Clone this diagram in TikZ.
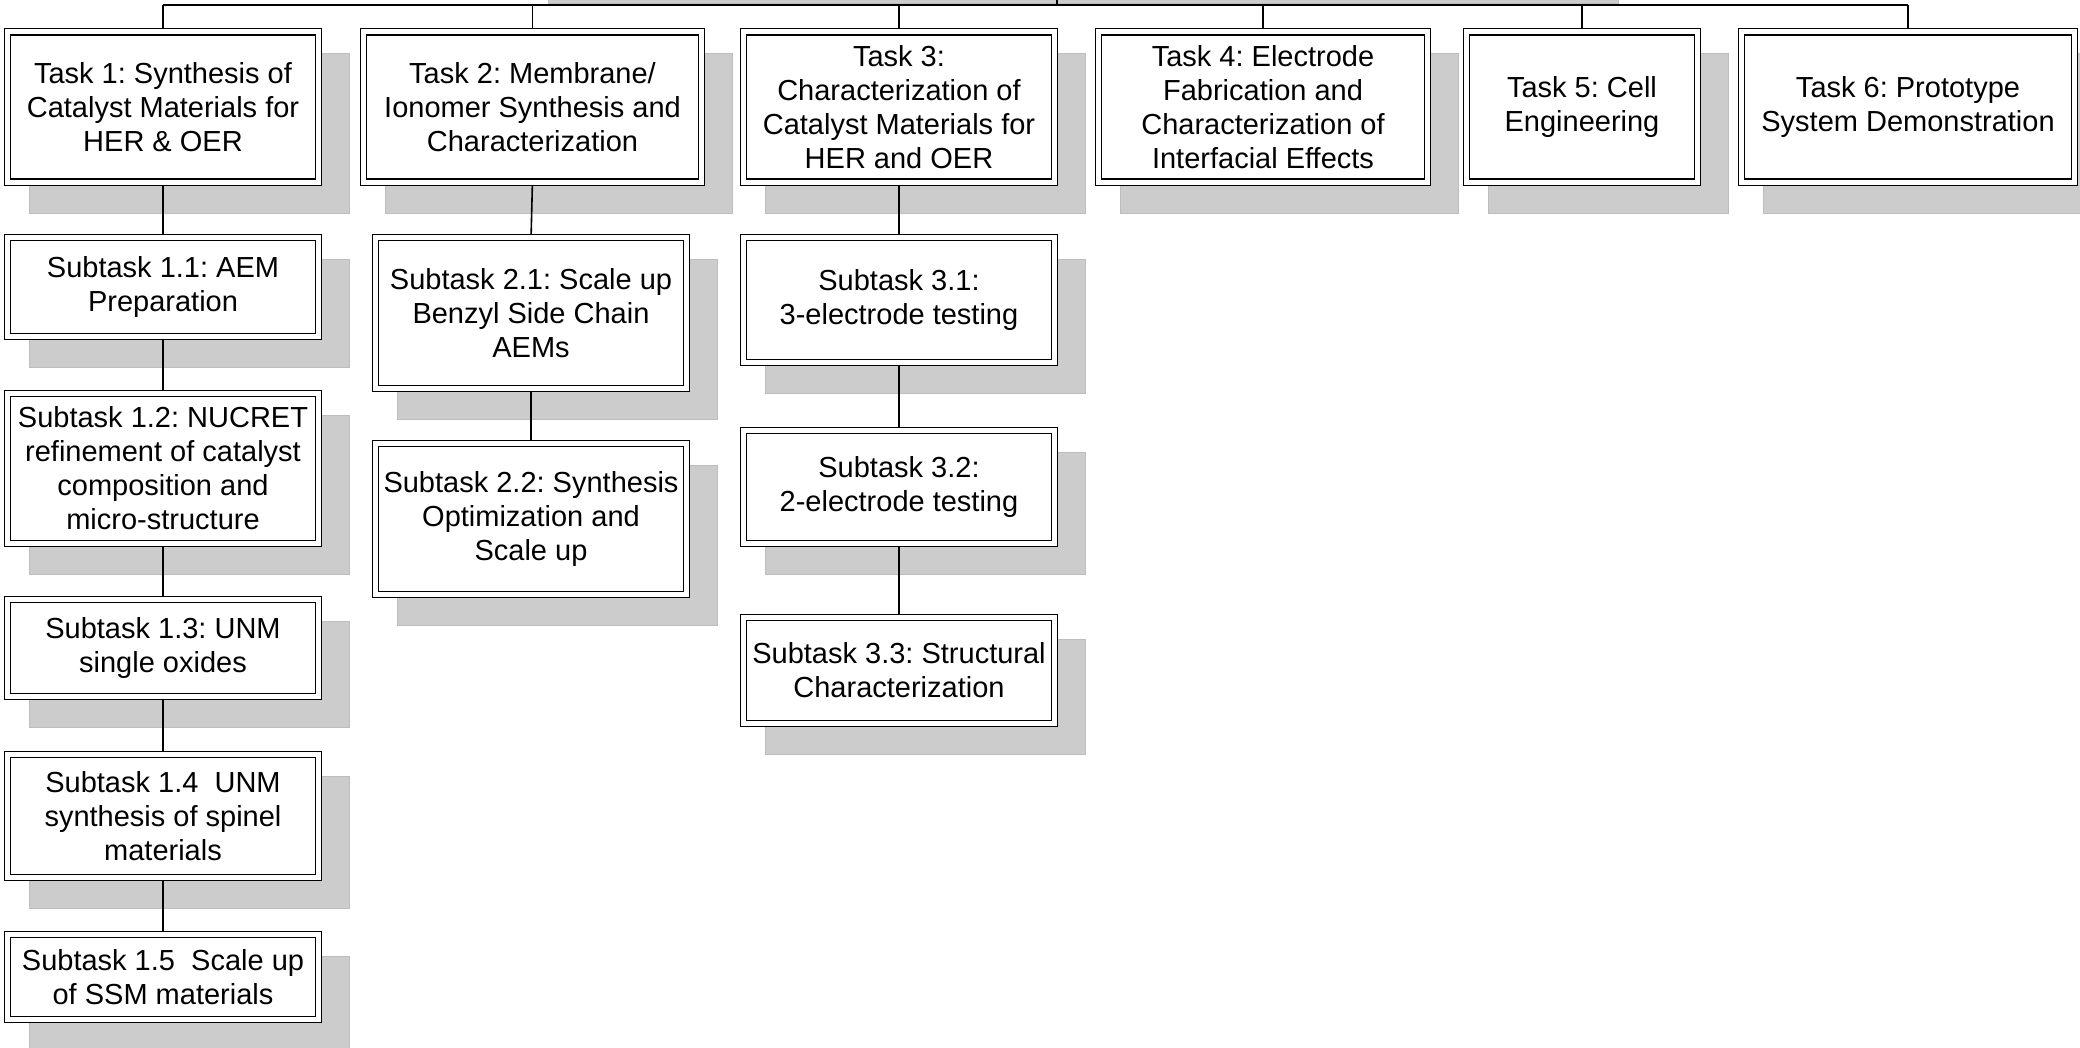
\documentclass[tikz,border=0pt]{standalone}
\usepackage{fontspec}
\setmainfont{Liberation Sans}
\frenchspacing
\usetikzlibrary{calc}
\definecolor{shadowgray}{HTML}{CCCCCC}
\definecolor{shadowedge}{HTML}{BDBDBD}
\pgfdeclarelayer{shadowlayer}
\pgfdeclarelayer{framelayer}
\pgfsetlayers{shadowlayer,framelayer,main}
\tikzset{
  box/.style={draw=black, line width=1.7pt, fill=white, inner sep=0pt, align=center,
    font=\fontsize{29pt}{34pt}\selectfont},
  conn/.style={draw=black, line width=1.6pt},
  shadowfill/.style={fill=shadowgray, draw=shadowedge, line width=0.8pt},
  outerframe/.style={draw=black, line width=1.1pt, fill=white},
}
\begin{document}
\begin{tikzpicture}[x=1pt,y=-1pt]
\useasboundingbox (0,0) rectangle (2080,1047);
% Tasks
\node[box, minimum width=305pt, minimum height=144pt] (t1) at (163,106.8) {Task 1: Synthesis of\\Catalyst Materials for\\HER \& OER};
\node[box, minimum width=332pt, minimum height=144pt] (t2) at (532.5,106.8) {Task 2: Membrane/\\Ionomer Synthesis and\\Characterization};
\node[box, minimum width=305pt, minimum height=144pt] (t3) at (899,106.8) {Task 3:\\Characterization of\\Catalyst Materials for\\HER and OER};
\node[box, minimum width=323pt, minimum height=144pt] (t4) at (1263,106.8) {Task 4: Electrode\\Fabrication and\\Characterization of\\Interfacial Effects};
\node[box, minimum width=225pt, minimum height=144pt] (t5) at (1582,106.8) {Task 5: Cell\\Engineering};
\node[box, minimum width=327pt, minimum height=144pt] (t6) at (1908,106.8) {Task 6: Prototype\\System Demonstration};
% Column 1
\node[box, minimum width=305pt, minimum height=93pt] (s11) at (163,287) {Subtask 1.1: AEM\\Preparation};
\node[box, minimum width=305pt, minimum height=144pt] (s12) at (163,468.5) {Subtask 1.2: NUCRET\\refinement of catalyst\\composition and\\micro-structure};
\node[box, minimum width=305pt, minimum height=91pt] (s13) at (163,648) {Subtask 1.3: UNM\\single oxides};
\node[box, minimum width=305pt, minimum height=117pt] (s14) at (163,816) {Subtask 1.4\ \ UNM\\synthesis of spinel\\materials};
\node[box, minimum width=305pt, minimum height=79pt] (s15) at (163,977) {Subtask 1.5\ \ Scale up\\of SSM materials};
% Column 2
\node[box, minimum width=305pt, minimum height=145pt] (s21) at (531,313) {Subtask 2.1: Scale up\\Benzyl Side Chain\\AEMs};
\node[box, minimum width=305pt, minimum height=145pt] (s22) at (531,519) {Subtask 2.2: Synthesis\\Optimization and\\Scale up};
% Column 3
\node[box, minimum width=305pt, minimum height=119pt] (s31) at (899,300) {Subtask 3.1:\\3-electrode testing};
\node[box, minimum width=305pt, minimum height=107pt] (s32) at (899,487) {Subtask 3.2:\\2-electrode testing};
\node[box, minimum width=305pt, minimum height=100pt] (s33) at (899,670.5) {Subtask 3.3: Structural\\Characterization};

\coordinate (bus) at (1057,5);
\coordinate (root) at (1057,-30);

\begin{pgfonlayer}{shadowlayer}
  \fill[shadowfill] (548,-60) rectangle (1618,3.5);
  \foreach \n in {t1,t2,t3,t4,t5,t6,s11,s12,s13,s14,s15,s21,s22,s31,s32,s33}{
    \fill[shadowfill] ($(\n.north west)+(19.5,19.5)$) rectangle ($(\n.south east)+(33.5,33.5)$);
  }
  \draw[conn] (root) -- (bus);
  \draw[conn] (t1.north |- bus) -- (t6.north |- bus);
  \foreach \n in {t1,t2,t3,t4,t5,t6}{
    \draw[conn] (\n.north) -- (\n.north |- bus);
  }
  \draw[conn] (t1.south) -- (s11.north);
  \draw[conn] (s11.south) -- (s12.north);
  \draw[conn] (s12.south) -- (s13.north);
  \draw[conn] (s13.south) -- (s14.north);
  \draw[conn] (s14.south) -- (s15.north);
  \draw[conn] (t2.south) -- (s21.north);
  \draw[conn] (s21.south) -- (s22.north);
  \draw[conn] (t3.south) -- (s31.north);
  \draw[conn] (s31.south) -- (s32.north);
  \draw[conn] (s32.south) -- (s33.north);
\end{pgfonlayer}
\begin{pgfonlayer}{framelayer}
  \foreach \n in {t1,t2,t3,t4,t5,t6,s11,s12,s13,s14,s15,s21,s22,s31,s32,s33}{
    \draw[outerframe] ($(\n.north west)+(-5.5,-5.5)$) rectangle ($(\n.south east)+(5.5,5.5)$);
  }
\end{pgfonlayer}
\end{tikzpicture}
\end{document}
